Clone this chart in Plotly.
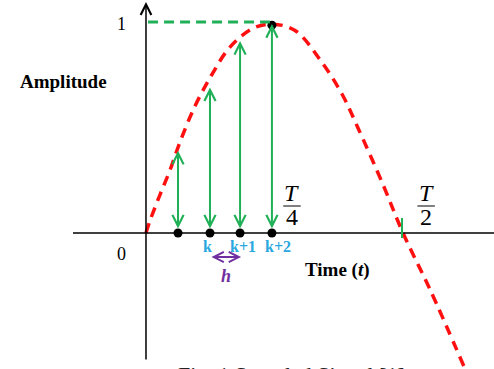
import plotly.graph_objects as go

# time in units of the period T, amplitude normalised to 1
curve_t = [0, 0.008, 0.027, 0.047, 0.066, 0.095, 0.128, 0.163, 0.208, 0.245,
           0.29, 0.339, 0.381, 0.412, 0.461, 0.5, 0.553, 0.62]
curve_amp = [0, 0.06, 0.18, 0.30, 0.43, 0.60, 0.75, 0.88, 0.97, 0.99,
             0.96, 0.82, 0.66, 0.50, 0.23, 0.0, -0.27, -0.64]

sample_t = [0.0623, 0.1245, 0.183, 0.245]
sample_amp = [0.39, 0.69, 0.91, 0.99]
peak_t, peak_amp = 0.245, 0.985

k_labels = ['k', 'k+1', 'k+2']
k_label_t = [0.119, 0.189, 0.257]

green = '#20b057'
red = '#ff1010'
blue = '#2aa8e0'
purple = '#7030a0'
serif = 'Liberation Serif, Times New Roman, serif'

fig = go.Figure()

# sine curve
fig.add_trace(go.Scatter(x=curve_t, y=curve_amp, mode='lines',
                         line=dict(color=red, width=3.5, dash='10px,7px', shape='spline'),
                         hoverinfo='skip'))

# sample dots on the time axis + peak dot
fig.add_trace(go.Scatter(x=sample_t, y=[0]*len(sample_t), mode='markers',
                         marker=dict(color='black', size=9)))
fig.add_trace(go.Scatter(x=[peak_t], y=[peak_amp], mode='markers',
                         marker=dict(color='black', size=9)))

# axes
fig.add_shape(type='line', x0=-0.142, x1=0.70, y0=0, y1=0,
              line=dict(color='black', width=1.5))
fig.add_annotation(x=0, y=1.095, ax=0, ay=-0.607, xref='x', yref='y',
                   axref='x', ayref='y', text='', showarrow=True,
                   arrowhead=5, arrowsize=1.4, arrowwidth=1.5, arrowcolor='black',
                   standoff=0)

# green dashed line at amplitude 1
fig.add_shape(type='line', x0=0.004, x1=0.241, y0=1.0, y1=1.0,
              line=dict(color=green, width=3, dash='10px,6px'))

# sampling arrows
for t, a in zip(sample_t, sample_amp):
    fig.add_annotation(x=t, y=a, ax=t, ay=0, xref='x', yref='y',
                       axref='x', ayref='y', text='', showarrow=True,
                       arrowhead=5, startarrowhead=5, arrowside='end+start',
                       arrowsize=1.1, startarrowsize=1.1, arrowwidth=2,
                       arrowcolor=green, standoff=0, startstandoff=3)

# small tick at T/2
fig.add_shape(type='line', x0=0.498, x1=0.498, y0=0.071, y1=-0.024,
              line=dict(color=green, width=2))

# h spacing arrow
fig.add_annotation(x=0.185, y=-0.114, ax=0.1245, ay=-0.114, xref='x', yref='y',
                   axref='x', ayref='y', text='', showarrow=True,
                   arrowhead=5, startarrowhead=5, arrowside='end+start',
                   arrowsize=1.0, startarrowsize=1.0, arrowwidth=2,
                   arrowcolor=purple, standoff=0, startstandoff=0)
fig.add_annotation(x=0.156, y=-0.204, text='<b><i>h</i></b>', showarrow=False,
                   font=dict(family=serif, size=18, color=purple))

for lab, t in zip(k_labels, k_label_t):
    fig.add_annotation(x=t, y=-0.066, text=f'<b>{lab}</b>', showarrow=False,
                       font=dict(family=serif, size=16, color=blue))

# T/4 and T/2 fractions
for t, den in [(0.284, '4'), (0.545, '2')]:
    fig.add_annotation(x=t, y=0.19, text='<i>T</i>', showarrow=False,
                       font=dict(family=serif, size=24, color='black'))
    fig.add_annotation(x=t, y=0.074, text=den, showarrow=False,
                       font=dict(family=serif, size=24, color='black'))
    fig.add_shape(type='line', x0=t - 0.017, x1=t + 0.017, y0=0.128, y1=0.128,
                  line=dict(color='black', width=1))

# axis texts
fig.add_annotation(x=-0.047, y=0.99, text='1', showarrow=False,
                   font=dict(family=serif, size=18, color='black'))
fig.add_annotation(x=-0.047, y=-0.10, text='0', showarrow=False,
                   font=dict(family=serif, size=18, color='black'))
fig.add_annotation(x=-0.161, y=0.716, text='<b>Amplitude</b>', showarrow=False,
                   font=dict(family=serif, size=19, color='black'))
fig.add_annotation(x=0.3735, y=-0.175, text='<b>Time (<i>t</i>)</b>', showarrow=False,
                   font=dict(family=serif, size=19, color='black'))

# caption (cut off at the bottom of the picture, as in the source)
fig.add_annotation(x=0.284, y=-0.60, yanchor='top', text='Fig. 1 Sampled Signal [1]',
                   showarrow=False, font=dict(family=serif, size=22, color='#222222'))

fig.update_layout(width=494, height=369,
                  margin=dict(l=0, r=0, t=0, b=0),
                  paper_bgcolor='white', plot_bgcolor='white',
                  showlegend=False,
                  xaxis=dict(range=[-0.284, 0.677], visible=False),
                  yaxis=dict(range=[-0.6445, 1.1043], visible=False))

# drop the default body margin so the figure fills the window exactly
fig.write_html("out.html", config={'displayModeBar': False},
               post_script="document.body.style.margin='0';")
